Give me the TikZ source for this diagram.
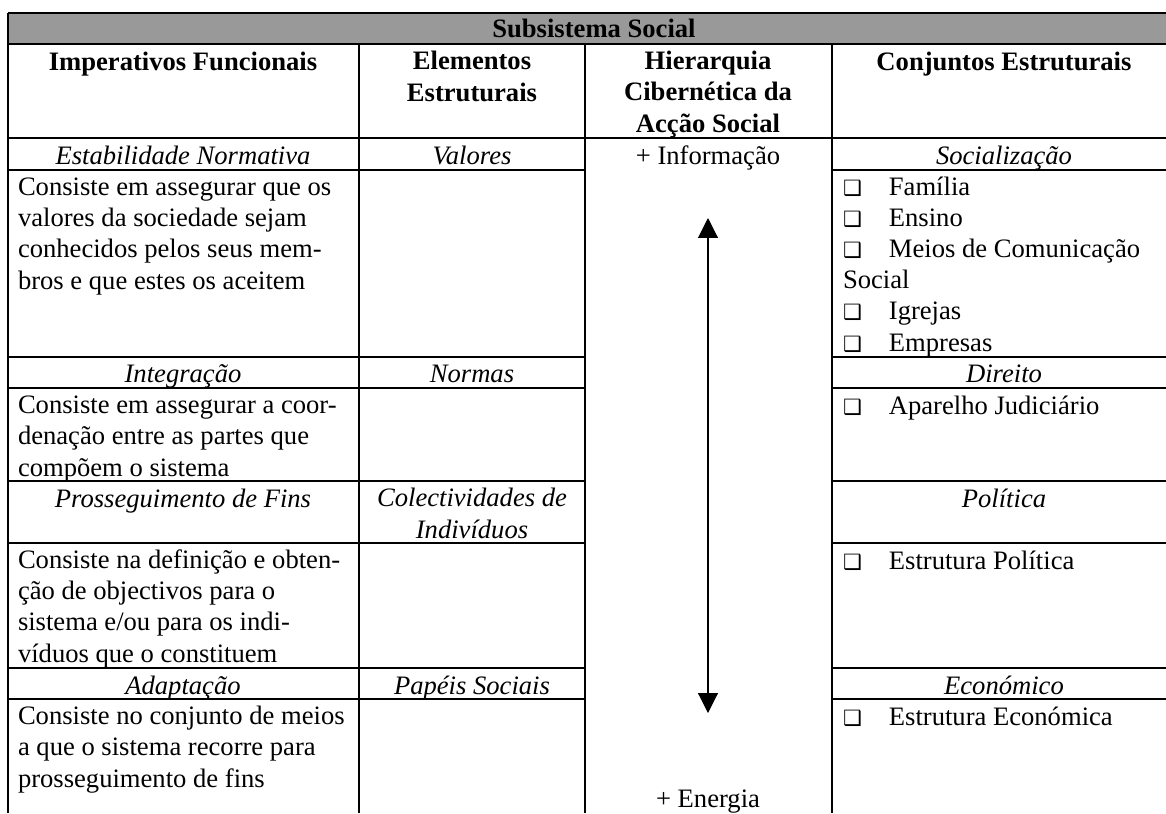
\documentclass[tikz,border=0pt]{standalone}
\usepackage{fontspec}
\setmainfont{Liberation Serif}
\newfontfamily\simbolos{DejaVu Sans}
\usetikzlibrary{arrows.meta}

\newcommand{\marca}{\makebox[20.7pt][l]{\simbolos\fontsize{9.5}{9.5}\selectfont ❑}}

\begin{document}
\begin{tikzpicture}[x=0.451pt,y=-0.451pt]
    \tikzstyle{every node}=[inner sep=0pt,outer sep=0pt,font=\fontsize{12}{14}\selectfont]
    \tikzstyle{grelha}=[line width=0.9pt]
    \tikzstyle{titulo}=[font=\fontsize{12}{14}\selectfont\bfseries,align=center,anchor=base]
    \tikzstyle{funcao}=[font=\fontsize{12}{14}\selectfont\itshape,align=center,anchor=base]
    \tikzstyle{texto}=[align=left,anchor=base west]
    \tikzstyle{seta}=[{Triangle[width=9pt,length=9pt]}-{Triangle[width=9pt,length=9pt]},line width=0.5pt]

    \useasboundingbox (0,0) rectangle (1166,813);
    \fill[black!40] (8,13) rectangle (1166,44);

    % Grid of the table
    \draw[grelha] (8,13) -- (1166,13);
    \draw[grelha] (8,44) -- (1166,44);
    \draw[grelha] (8,138) -- (1166,138);
    \foreach \y in {170,357,388,481,543,668,699}
        \draw[grelha] (8,\y) -- (585,\y) (832,\y) -- (1166,\y);
    \draw[grelha] (8,13) -- (8,813);
    \foreach \x in {359,585,832}
        \draw[grelha] (\x,44) -- (\x,813);

    % Headings (multi-line nodes sit on their last baseline)
    \node[titulo] (T) at (594,37) {Subsistema Social};
    \node[titulo] (H-1) at (183,70) {Imperativos Funcionais};
    \node[titulo] (H-2) at (472,101) {Elementos\\Estruturais};
    \node[titulo] (H-3) at (708,132) {Hierarquia\\Cibernética da\\Acção Social};
    \node[titulo] (H-4) at (1004,70) {Conjuntos Estruturais};

    % Functional imperatives, elements and sets
    \node[funcao] (F-1) at (183,164) {Estabilidade Normativa};
    \node[funcao] (E-1) at (472,164) {Valores};
    \node[funcao] (C-1) at (1004,164) {Socialização};
    \node[funcao] (F-2) at (183,382) {Integração};
    \node[funcao] (E-2) at (472,382) {Normas};
    \node[funcao] (C-2) at (1004,382) {Direito};
    \node[funcao] (F-3) at (183,507) {Prosseguimento de Fins};
    \node[funcao] (E-3) at (472,538) {Colectividades de\\Indivíduos};
    \node[funcao] (C-3) at (1004,507) {Política};
    \node[funcao] (F-4) at (183,694) {Adaptação};
    \node[funcao] (E-4) at (472,694) {Papéis Sociais};
    \node[funcao] (C-4) at (1004,694) {Económico};

    % Descriptions
    \node[texto] (D-1) at (18,289) {Consiste em assegurar que os\\valores da sociedade sejam\\conhecidos pelos seus mem-\\bros e que estes os aceitem};
    \node[texto] (D-2) at (18,476) {Consiste em assegurar a coor-\\denação entre as partes que\\compõem o sistema};
    \node[texto] (D-3) at (18,662) {Consiste na definição e obten-\\ção de objectivos para o\\sistema e/ou para os indi-\\víduos que o constituem};
    \node[texto] (D-4) at (18,787) {Consiste no conjunto de meios\\a que o sistema recorre para\\prosseguimento de fins};

    \node[texto] (L-1) at (843,351) {\marca Família\\\marca Ensino\\\marca Meios de Comunicação\\Social\\\marca Igrejas\\\marca Empresas};
    \node[texto] (L-2) at (843,414) {\marca Aparelho Judiciário};
    \node[texto] (L-3) at (843,569) {\marca Estrutura Política};
    \node[texto] (L-4) at (843,725) {\marca Estrutura Económica};

    % Cybernetic hierarchy
    \node[anchor=base] (info) at (708,164) {+ Informação};
    \node[anchor=base] (energia) at (708,807) {+ Energia};
    \coordinate (topo) at (708,218);
    \coordinate (fundo) at (708,713);
    \draw[seta] (topo) -- (fundo);
\end{tikzpicture}
\end{document}
